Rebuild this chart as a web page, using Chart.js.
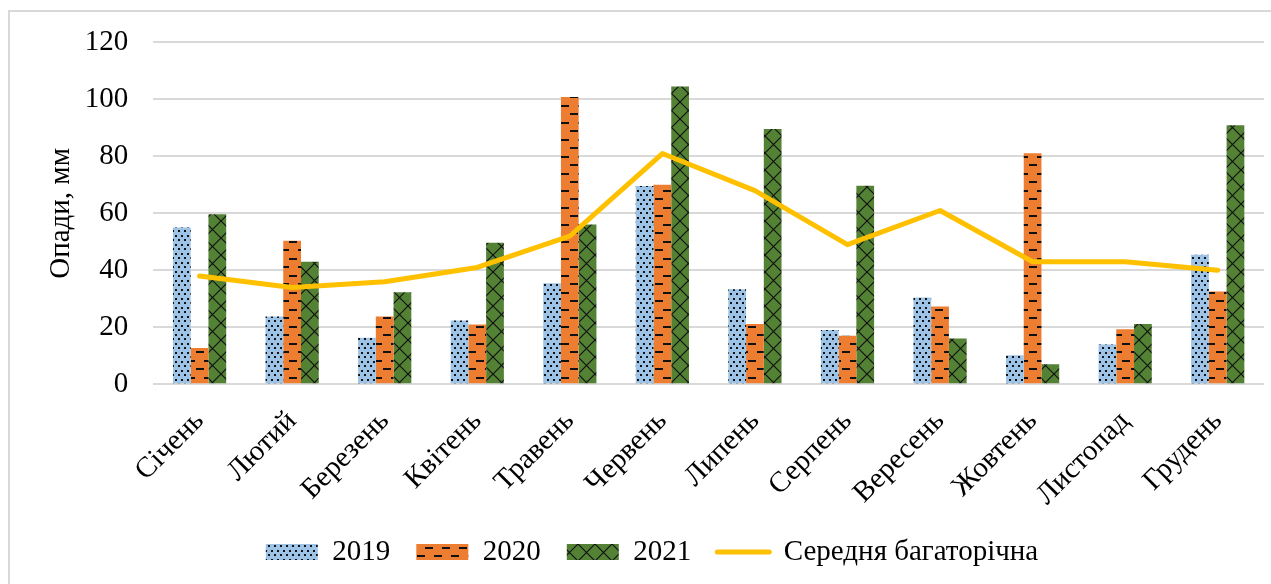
<!DOCTYPE html>
<html><head><meta charset="utf-8">
<script src="https://cdn.jsdelivr.net/npm/chart.js@4.4.1/dist/chart.umd.min.js"></script>
<style>
html,body{margin:0;padding:0;background:#fff;overflow:hidden;}
#wrap{position:relative;width:1271px;height:584px;}
#frame{position:absolute;left:8px;top:10px;width:1300px;height:700px;border:2px solid #d9d9d9;box-sizing:border-box;pointer-events:none;}
canvas{position:absolute;left:0;top:0;}
</style></head>
<body><div id="wrap"><canvas id="c" width="1271" height="584"></canvas><div id="frame"></div></div>
<script>
const months = ['Січень','Лютий','Березень','Квітень','Травень','Червень','Липень','Серпень','Вересень','Жовтень','Листопад','Грудень'];
const rain2019 = [55.0, 23.8, 16.3, 22.4, 35.5, 69.6, 33.4, 19.1, 30.5, 10.2, 14.0, 45.5];
const rain2020 = [12.7, 50.4, 23.8, 21.0, 100.8, 70.0, 21.2, 17.0, 27.3, 81.1, 19.3, 32.6];
const rain2021 = [59.7, 43.0, 32.3, 49.7, 56.1, 104.5, 89.6, 69.7, 16.1, 7.0, 21.2, 90.9];
const longTermAvg = [38, 34, 36, 41, 52, 81, 68, 49, 61, 43, 43, 40];
const seriesNames = ['2019', '2020', '2021', 'Середня багаторічна'];
const yMin = 0, yMax = 120, yStep = 20;

function makePattern(w, h, draw) {
  const c = document.createElement('canvas');
  c.width = w; c.height = h;
  const x = c.getContext('2d');
  draw(x, w, h);
  return x.createPattern(c, 'repeat');
}
const ctx = document.getElementById('c').getContext('2d');
const pat2019 = makePattern(6, 9, (x, w, h) => {
  x.fillStyle = '#9DC3E6'; x.fillRect(0, 0, w, h);
  x.fillStyle = '#111';
  x.fillRect(1, 1, 2, 2);
  x.fillRect(4, 5, 2, 2);
});
const pat2020 = makePattern(17, 17, (x, w, h) => {
  x.fillStyle = '#ED7D31'; x.fillRect(0, 0, w, h);
  x.fillStyle = '#111';
  x.fillRect(0, 3, 8, 2);
  x.fillRect(9, 11, 8, 2);
});
const pat2021 = makePattern(17, 17, (x, w, h) => {
  x.fillStyle = '#548235'; x.fillRect(0, 0, w, h);
  x.strokeStyle = '#111'; x.lineWidth = 1.2;
  x.beginPath();
  x.moveTo(-1, -1); x.lineTo(w + 1, h + 1);
  x.moveTo(w + 1, -1); x.lineTo(-1, h + 1);
  x.stroke();
});

const font = (s) => ({ family: '"Liberation Serif", "Times New Roman", serif', size: s });

new Chart(ctx, {
  data: {
    labels: months,
    datasets: [
      { type: 'bar', label: seriesNames[0], data: rain2019, backgroundColor: pat2019, borderWidth: 0, order: 2, barPercentage: 1, categoryPercentage: 0.575 },
      { type: 'bar', label: seriesNames[1], data: rain2020, backgroundColor: pat2020, borderWidth: 0, order: 2, barPercentage: 1, categoryPercentage: 0.575 },
      { type: 'bar', label: seriesNames[2], data: rain2021, backgroundColor: pat2021, borderWidth: 0, order: 2, barPercentage: 1, categoryPercentage: 0.575 },
      { type: 'line', label: seriesNames[3], data: longTermAvg, borderColor: '#FFC000', backgroundColor: '#FFC000', borderWidth: 5, pointRadius: 0, tension: 0, borderCapStyle: 'round', borderJoinStyle: 'round', order: 1 }
    ]
  },
  options: {
    responsive: false,
    animation: false,
    devicePixelRatio: 1,
    layout: { padding: { left: 40, right: 7, top: 41, bottom: 7.5 } },
    scales: {
      x: {
        grid: { display: false },
        border: { display: false },
        ticks: { color: '#000', font: font(29), minRotation: 45, maxRotation: 45, padding: 12 },
        afterFit: (s) => { s.height = 127.2; }
      },
      y: {
        min: yMin, max: yMax,
        grid: { color: '#d9d9d9', lineWidth: 2, drawTicks: false },
        border: { display: false },
        ticks: { color: '#000', font: font(29), stepSize: yStep, padding: 25 },
        title: { display: true, text: 'Опади, мм', color: '#000', font: font(29), padding: { top: 4.3, bottom: 0 } },
        afterFit: (s) => { s.width = 113.3; }
      }
    },
    plugins: {
      tooltip: { enabled: false },
      legend: {
        position: 'bottom',
        labels: {
          color: '#000', font: font(29), padding: 26,
          usePointStyle: true, pointStyleWidth: 52, boxHeight: 16,
          sort: (a, b) => a.datasetIndex - b.datasetIndex,
          generateLabels: (chart) => {
            const items = Chart.defaults.plugins.legend.labels.generateLabels(chart);
            items.forEach(it => {
              const ds = chart.data.datasets[it.datasetIndex];
              if (ds.type === 'line') {
                it.pointStyle = 'line'; it.strokeStyle = ds.borderColor; it.lineWidth = 5; it.lineCap = 'round';
              } else {
                it.pointStyle = 'rect'; it.fillStyle = ds.backgroundColor; it.lineWidth = 0;
              }
            });
            return items;
          }
        }
      }
    }
  }
});
</script>
</body></html>
